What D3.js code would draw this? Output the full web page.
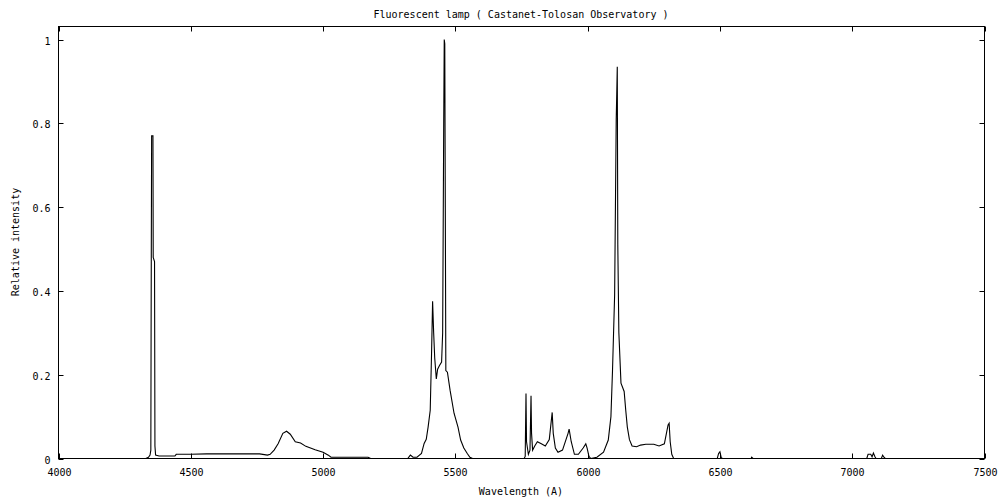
<!DOCTYPE html>
<html><head><meta charset="utf-8">
<script src="https://cdn.jsdelivr.net/npm/d3@7"></script>
<style>
html,body{margin:0;padding:0;background:#fff;}
text{font-family:"DejaVu Sans Mono",monospace;font-size:10px;fill:#000;}
</style></head>
<body><svg id="c" width="1000" height="500"></svg>
<script>
const title = "Fluorescent lamp ( Castanet-Tolosan Observatory )";
const xLabel = "Wavelength (A)";
const yLabel = "Relative intensity";
const xTicks = [4000,4500,5000,5500,6000,6500,7000,7500];
const yTicks = [0,0.2,0.4,0.6,0.8,1];
const yTickLabels = ["0","0.2","0.4","0.6","0.8","1"];
const wavelength = [4000,4330,4340,4346,4349,4350,4351,4352,4357,4358,4363,4364.5,4367,4380,4440,4445,4500,4560,4640,4760,4790,4800,4815,4830,4848,4862,4876,4895,4915,4935,4970,5000,5020,5030,5170,5180,5320,5330,5340,5355,5372,5382,5390,5397,5405,5410,5414,5418,5422,5428,5433,5440,5448,5452,5456,5458,5460,5462,5464,5470,5480,5495,5510,5520,5532,5545,5555,5565,5760,5764,5767,5769,5776,5782,5786,5788,5792,5800,5810,5825,5840,5855,5866,5870,5878,5888,5905,5926,5930,5938,5950,5965,5983,5993,5998,6005,6012,6035,6060,6078,6088,6094,6102,6108,6110,6112,6114,6118,6126,6138,6144,6150,6158,6168,6185,6200,6220,6250,6270,6290,6304,6308,6312,6318,6325,6490,6495,6500,6505,6510,6618,6620,6625,7055,7060,7070,7075,7080,7086,7090,7110,7115,7120,7125,7500];
const intensity = [0,0,0.003,0.008,0.02,0.3,0.55,0.77,0.77,0.48,0.47,0.03,0.008,0.006,0.006,0.01,0.01,0.011,0.011,0.011,0.008,0.01,0.02,0.035,0.06,0.065,0.058,0.04,0.037,0.029,0.021,0.015,0.008,0.003,0.003,0,0,0.008,0.003,0.003,0.012,0.036,0.046,0.075,0.115,0.25,0.375,0.30,0.24,0.19,0.213,0.222,0.23,0.3,0.8,1.0,0.99,0.6,0.21,0.206,0.163,0.108,0.075,0.044,0.025,0.012,0.003,0,0,0.005,0.155,0.04,0.01,0.02,0.15,0.06,0.02,0.03,0.04,0.035,0.03,0.045,0.11,0.06,0.025,0.015,0.02,0.06,0.07,0.04,0.01,0.01,0.025,0.035,0.025,0.005,0,0.003,0.015,0.044,0.1,0.21,0.39,0.81,0.87,0.935,0.51,0.3,0.18,0.16,0.115,0.075,0.045,0.03,0.028,0.032,0.034,0.034,0.03,0.035,0.08,0.084,0.04,0.01,0,0,0.012,0.016,0.002,0,0,0.003,0,0,0.01,0.01,0.004,0.013,0.004,0,0,0.008,0.003,0,0];

const svg = d3.select("#c");
const L = 58.5, R = 984.5, T = 26.5, B = 458.5;
const x = d3.scaleLinear().domain([4000,7500]).range([L,R]);
const y = d3.scaleLinear().domain([0,1]).range([B,39.5]);
const tl = 5;

const g = svg.append("g");
g.append("rect").attr("x",L).attr("y",T).attr("width",R-L).attr("height",B-T)
 .attr("fill","none").attr("stroke","#000").attr("stroke-width",1);

xTicks.forEach(v=>{
  const px = Math.round(x(v))+0.5;
  g.append("line").attr("x1",px).attr("x2",px).attr("y1",B).attr("y2",B-tl).attr("stroke","#000");
  g.append("line").attr("x1",px).attr("x2",px).attr("y1",T).attr("y2",T+tl).attr("stroke","#000");
  g.append("text").attr("x",px).attr("y",B+17).attr("text-anchor","middle").text(v);
});
yTicks.forEach((v,i)=>{
  const py = Math.round(y(v))+0.5;
  g.append("line").attr("x1",L).attr("x2",L+tl).attr("y1",py).attr("y2",py).attr("stroke","#000");
  g.append("line").attr("x1",R).attr("x2",R-tl).attr("y1",py).attr("y2",py).attr("stroke","#000");
  g.append("text").attr("x",L-8).attr("y",py+4).attr("text-anchor","end").text(yTickLabels[i]);
});

const pts = wavelength.map((w,i)=>[w,intensity[i]]);
const line = d3.line().x(d=>x(d[0])).y(d=>y(d[1]));
g.append("path").datum(pts).attr("d",line).attr("fill","none").attr("stroke","#000").attr("stroke-width",1.1);

svg.append("text").attr("x",521).attr("y",18).attr("text-anchor","middle").text(title);
svg.append("text").attr("x",521).attr("y",495).attr("text-anchor","middle").text(xLabel);
svg.append("text").attr("transform","translate(19,242) rotate(-90)").attr("text-anchor","middle").text(yLabel);
</script></body></html>
